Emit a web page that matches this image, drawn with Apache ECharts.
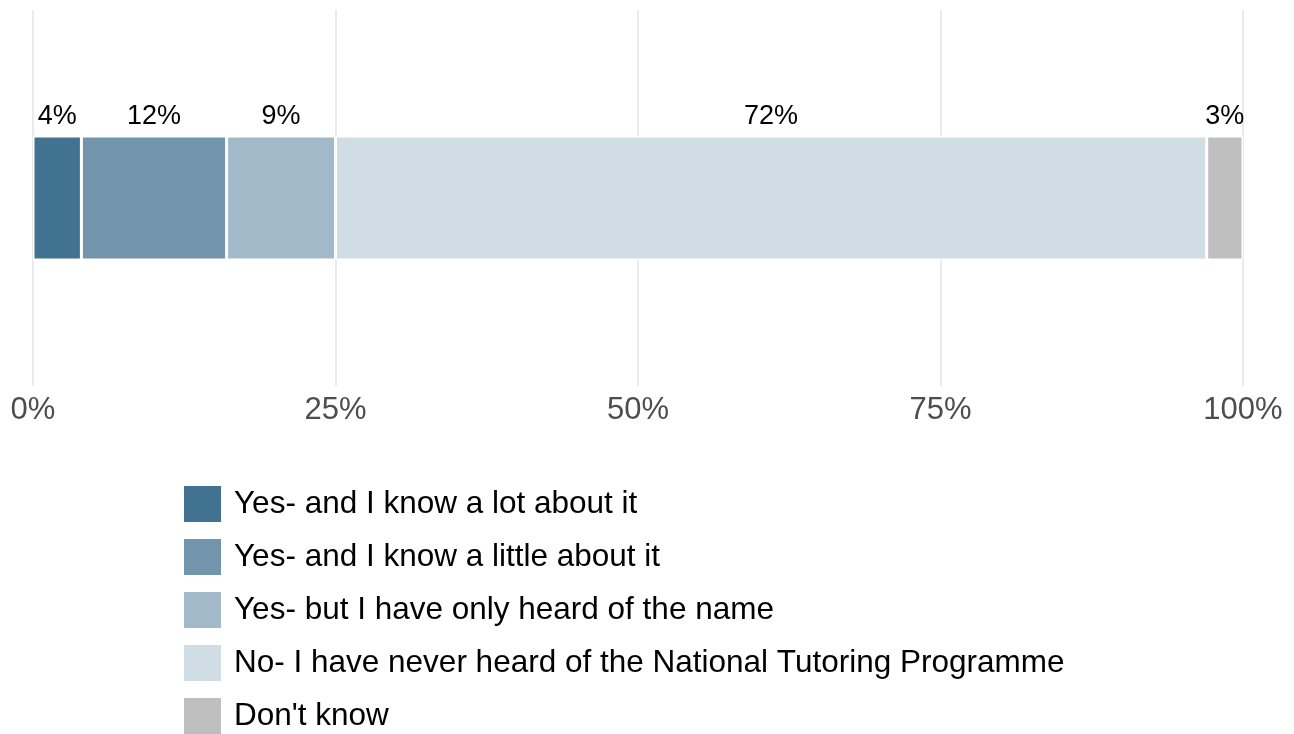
<!DOCTYPE html>
<html>
<head>
<meta charset="utf-8">
<script src="https://cdn.jsdelivr.net/npm/echarts@6/dist/echarts.min.js"></script>
<style>
  html, body { margin: 0; padding: 0; background: #ffffff; }
  #chart { width: 1294px; height: 734px; }
</style>
</head>
<body>
<div id="chart"></div>
<script>
// Awareness of the National Tutoring Programme (share of respondents, %)
const categories = ['All'];
const responses = [
  'Yes- and I know a lot about it',
  'Yes- and I know a little about it',
  'Yes- but I have only heard of the name',
  'No- I have never heard of the National Tutoring Programme',
  "Don't know"
];
const shares = [4, 12, 9, 72, 3];
const colors = ['#41728F', '#7295AD', '#A2B9C9', '#D0DDE4', '#BFBFBF'];
const xTicks = [0, 25, 50, 75, 100];

const FONT = '"Liberation Sans", Arial, sans-serif';

const series = responses.map((name, i) => ({
  name: name,
  type: 'bar',
  stack: 'total',
  barWidth: 124,
  data: [shares[i]],
  itemStyle: { color: colors[i], borderColor: '#ffffff', borderWidth: 1.5 },
  label: {
    show: true,
    position: 'top',
    distance: 6,
    formatter: p => p.value + '%',
    color: '#000000',
    fontFamily: FONT,
    fontSize: 27
  },
  emphasis: { disabled: true }
}));

const chart = echarts.init(document.getElementById('chart'), null, { renderer: 'canvas' });
chart.setOption({
  animation: false,
  backgroundColor: '#ffffff',
  grid: { left: 33, right: 51, top: 10, bottom: 348, containLabel: false },
  xAxis: {
    type: 'value',
    min: xTicks[0],
    max: xTicks[xTicks.length - 1],
    interval: 25,
    axisLine: { show: false },
    axisTick: { show: false },
    splitLine: { show: true, lineStyle: { color: '#EBEBEB', width: 2 } },
    axisLabel: {
      formatter: v => v + '%',
      color: '#4D4D4D',
      fontFamily: FONT,
      fontSize: 31,
      margin: 9,
      showMinLabel: true,
      showMaxLabel: true
    }
  },
  yAxis: {
    type: 'category',
    data: categories,
    axisLine: { show: false },
    axisTick: { show: false },
    axisLabel: { show: false },
    splitLine: { show: false }
  },
  legend: {
    orient: 'vertical',
    left: 184,
    top: 486,
    height: 300,
    padding: 0,
    itemWidth: 37,
    itemHeight: 36,
    itemGap: 17,
    icon: 'rect',
    selectedMode: false,
    data: responses,
    itemStyle: { borderWidth: 0 },
    textStyle: {
      color: '#000000',
      fontFamily: FONT,
      fontSize: 31.5,
      lineHeight: 32,
      padding: [4, 0, 0, 8]
    }
  },
  series: series
});
</script>
</body>
</html>
